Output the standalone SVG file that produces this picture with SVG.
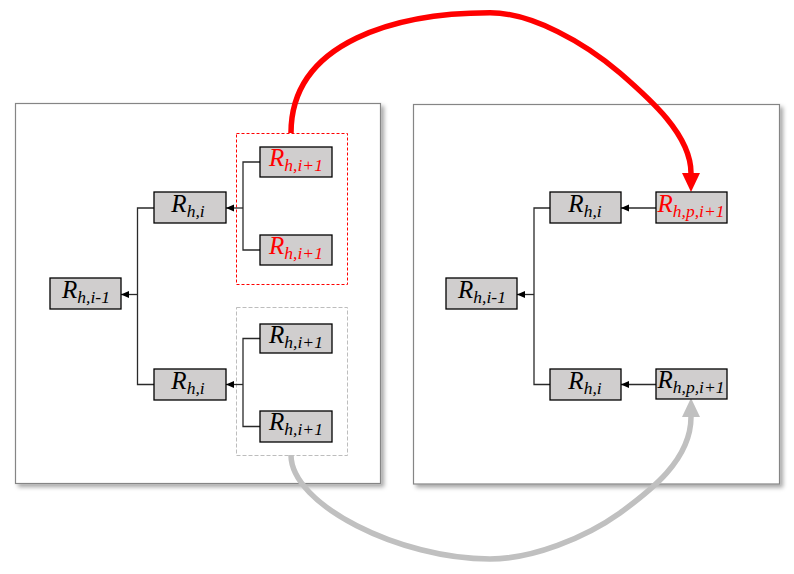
<svg xmlns="http://www.w3.org/2000/svg" width="794" height="574" viewBox="0 0 794 574">
<style>
.panel{fill:#fff;stroke:#858585;stroke-width:1.2}
.node rect{fill:#d0cece;stroke:#000;stroke-width:1.3}
.lbl{font-family:"Liberation Serif","Times New Roman",serif;font-style:italic;font-size:25px;fill:#000}
.lbl .s{font-size:17.5px}
.red{fill:#ff0000}
.conn{fill:none;stroke:#2a2a2a;stroke-width:1.3}
.arr{fill:none;stroke:#2a2a2a;stroke-width:1.3;marker-end:url(#sm)}
.grpR{fill:none;stroke:#ff0000;stroke-width:1;stroke-dasharray:3 2}
.grpG{fill:none;stroke:#bdbdbd;stroke-width:1;stroke-dasharray:4 2}
.bigR{fill:none;stroke:#ff0000;stroke-width:5.5;marker-end:url(#mr)}
.bigG{fill:none;stroke:#c0c0c0;stroke-width:5.5;marker-end:url(#mg)}
</style>
<defs>
<filter id="sh" x="-5%" y="-5%" width="115%" height="115%">
<feDropShadow dx="3" dy="3" stdDeviation="2" flood-color="#000" flood-opacity="0.35"/>
</filter>
<marker id="sm" markerUnits="userSpaceOnUse" markerWidth="9" markerHeight="8" refX="8" refY="3.5" orient="auto">
<path d="M0,0 L8,3.5 L0,7 z" fill="#000"/>
</marker>
<marker id="mr" markerUnits="userSpaceOnUse" markerWidth="20" markerHeight="19" refX="0" refY="9" orient="auto">
<path d="M0,0 L19,9 L0,18 z" fill="#ff0000"/>
</marker>
<marker id="mg" markerUnits="userSpaceOnUse" markerWidth="20" markerHeight="19" refX="0" refY="9" orient="auto">
<path d="M0,0 L19,9 L0,18 z" fill="#c0c0c0"/>
</marker>
</defs>
<rect width="794" height="574" fill="#fff"/>
<g id="panels">
<rect class="panel" x="15.5" y="103.5" width="365" height="380" filter="url(#sh)"/>
<rect class="panel" x="413.5" y="104.5" width="366" height="379.5" filter="url(#sh)"/>
</g>
<g id="groups">
<rect class="grpR" x="236.5" y="133.5" width="111" height="151"/>
<rect class="grpG" x="236.5" y="307.5" width="111" height="148"/>
</g>
<g id="connectors">
<path class="conn" d="M260,162 H243 V250 H260"/>
<path class="arr" d="M243,208 H226"/>
<path class="conn" d="M260,338.5 H243 V426.5 H260"/>
<path class="arr" d="M243,384.5 H226"/>
<path class="conn" d="M154,208 H137.5 V384.5 H154"/>
<path class="arr" d="M137.5,294.5 H121"/>
<path class="conn" d="M550,208 H534 V384.5 H550"/>
<path class="arr" d="M534,294.5 H517"/>
<path class="arr" d="M656,208 H621"/>
<path class="arr" d="M656,384.5 H621"/>
<path class="bigR" d="M291,133 C291,40 400,12.7 490,12.7 C532,12.7 585,43 620,73 C650,99 691,135 691,173"/>
<path class="bigG" d="M291,455 C291,505 400,559 490,559 C532,559 585,538 620,513 C650,491 691,460 691,417"/>
</g>
<g id="n-l-prev" class="node"><rect x="50" y="278" width="71" height="31"/><text class="lbl" x="86" y="297.5" text-anchor="middle">R<tspan class="s" dy="5">h,i-1</tspan></text></g>
<g id="n-l-top" class="node"><rect x="154" y="192" width="72" height="31"/><text class="lbl" x="188" y="211.5" text-anchor="middle">R<tspan class="s" dy="5">h,i</tspan></text></g>
<g id="n-l-bot" class="node"><rect x="154" y="369" width="72" height="31"/><text class="lbl" x="188" y="388.5" text-anchor="middle">R<tspan class="s" dy="5">h,i</tspan></text></g>
<g id="n-l-c1" class="node"><rect x="260" y="147" width="72" height="30"/><text class="lbl red" x="296" y="166" text-anchor="middle">R<tspan class="s" dy="5">h,i+1</tspan></text></g>
<g id="n-l-c2" class="node"><rect x="260" y="235" width="72" height="30"/><text class="lbl red" x="296" y="254" text-anchor="middle">R<tspan class="s" dy="5">h,i+1</tspan></text></g>
<g id="n-l-c3" class="node"><rect x="260" y="324" width="72" height="29"/><text class="lbl" x="296" y="342.5" text-anchor="middle">R<tspan class="s" dy="5">h,i+1</tspan></text></g>
<g id="n-l-c4" class="node"><rect x="260" y="411" width="72" height="31"/><text class="lbl" x="296" y="430" text-anchor="middle">R<tspan class="s" dy="5">h,i+1</tspan></text></g>
<g id="n-r-prev" class="node"><rect x="446" y="278" width="71" height="31"/><text class="lbl" x="482" y="297.5" text-anchor="middle">R<tspan class="s" dy="5">h,i-1</tspan></text></g>
<g id="n-r-top" class="node"><rect x="550" y="192" width="71" height="31"/><text class="lbl" x="585" y="211.5" text-anchor="middle">R<tspan class="s" dy="5">h,i</tspan></text></g>
<g id="n-r-bot" class="node"><rect x="550" y="369" width="71" height="31"/><text class="lbl" x="585" y="388.5" text-anchor="middle">R<tspan class="s" dy="5">h,i</tspan></text></g>
<g id="n-r-p1" class="node"><rect x="656" y="192" width="71" height="31"/><text class="lbl red" x="691" y="211.5" text-anchor="middle">R<tspan class="s" dy="5">h,p,i+1</tspan></text></g>
<g id="n-r-p2" class="node"><rect x="656" y="369" width="71" height="30"/><text class="lbl" x="691" y="388" text-anchor="middle">R<tspan class="s" dy="5">h,p,i+1</tspan></text></g>
</svg>
